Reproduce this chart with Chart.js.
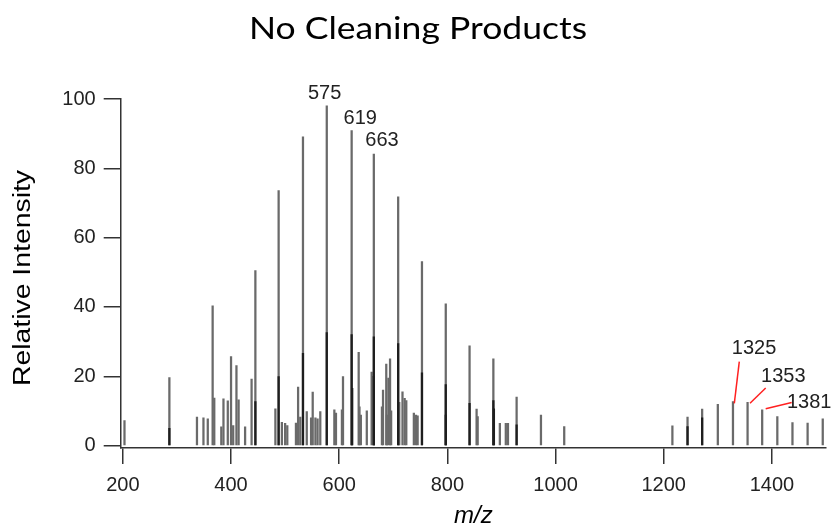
<!DOCTYPE html>
<html>
<head>
<meta charset="utf-8">
<script src="https://cdn.jsdelivr.net/npm/chart.js@4"></script>
<style>
  html, body { margin: 0; padding: 0; background: #fff; }
  #spectrum { display: block; }
</style>
</head>
<body>
<canvas id="spectrum" width="834" height="524"></canvas>
<script>
// peak positions (m/z) and relative intensities
const peakMz = [203, 286, 337, 349, 357, 366, 369, 382, 386, 394, 400, 404, 410, 414, 426, 438, 445,
    482, 488, 494, 500, 504, 520, 524, 528, 533, 540, 548, 551, 556, 560, 565, 577, 591, 594, 605, 607,
    623, 636, 637.5, 640, 651, 660, 664, 679, 681, 687, 688, 691, 694, 696, 709, 711, 717, 721, 724,
    738, 742, 745, 753, 797, 841, 854, 856, 885, 897, 908, 912, 928, 973, 1016,
    1216, 1244, 1271, 1300, 1328, 1355, 1382, 1410, 1438, 1466, 1494];
const peakInt = [7.2, 19.6, 8.2, 8.0, 7.7, 40.3, 13.7, 5.4, 13.5, 12.9, 25.7, 5.8, 23.1, 13.2, 5.4, 19.2, 50.5,
    10.6, 73.6, 6.7, 6.4, 5.8, 6.5, 16.9, 8.2, 89.1, 9.8, 8.0, 15.4, 8.0, 7.7, 9.8, 98, 10.3, 9.4, 10.3, 19.9,
    90.9, 26.9, 11.2, 8.8, 10.0, 21.2, 84.1, 11.2, 16, 23.5, 8.8, 19.5, 25, 10, 71.8, 12.5, 15.5, 13.6, 13,
    9.4, 8.8, 8.6, 53.1, 40.9, 28.8, 10.5, 8.4, 25.0, 6.4, 6.4, 6.4, 14, 8.8, 5.5,
    5.7, 8.2, 10.5, 11.9, 12.7, 12.5, 10.3, 8.4, 6.6, 6.5, 7.7];

// shorter peaks sitting under the big ones (show as darker bases)
const minorMz = [286, 445, 488, 533, 577, 623, 624, 664, 664, 709, 753, 797, 797, 841, 885, 886, 928, 1244, 1271];
const minorInt = [5, 12.7, 19.9, 26.6, 32.6, 32, 16.5, 31.4, 20, 29.4, 21, 17.6, 8.8, 12.2, 13, 10.6, 6, 5.5, 8];

const xTicks = [200, 400, 600, 800, 1000, 1200, 1400];
const yTicks = [0, 20, 40, 60, 80, 100];

// peak labels and leader lines
const labelText = ['575', '619', '663', '1325', '1353', '1381'];
const labelX = [573, 639, 679, 1367, 1421, 1469];
const labelY = [101.5, 94.5, 88, 28.1, 19.9, 12.5];
const leaderFrom = [[1339.7, 24.2], [1388.5, 16.6], [1436.6, 12.4]];
const leaderTo = [[1330.5, 12.2], [1359.5, 12.2], [1388.5, 10.6]];

const tickFont = { family: "'Liberation Sans', Arial, sans-serif", size: 20 };

// draws text squeezed/stretched along its length to a target width
function stretchedText(ctx, text, x, y, width) {
    const w = ctx.measureText(text).width;
    ctx.save();
    ctx.translate(x, y);
    ctx.scale(width / w, 1);
    ctx.fillText(text, 0, 0);
    ctx.restore();
}

const decorations = {
    id: 'decorations',
    afterDraw(chart) {
        const ctx = chart.ctx;
        const xs = chart.scales.x, ys = chart.scales.y;
        ctx.save();
        ctx.fillStyle = '#000';
        ctx.textAlign = 'center';

        // title
        ctx.font = "31px Lato, 'Noto Sans', sans-serif";
        ctx.textBaseline = 'alphabetic';
        stretchedText(ctx, 'No Cleaning Products', 418, 39, 338);

        // y axis title
        ctx.save();
        ctx.translate(24, 278);
        ctx.rotate(-Math.PI / 2);
        ctx.font = "23px 'Liberation Sans', Arial, sans-serif";
        ctx.textBaseline = 'middle';
        stretchedText(ctx, 'Relative Intensity', 0, 0, 216);
        ctx.restore();

        // red leader lines
        ctx.strokeStyle = '#ff2020';
        ctx.lineWidth = 1.5;
        leaderFrom.forEach((p, i) => {
            ctx.beginPath();
            ctx.moveTo(xs.getPixelForValue(p[0]), ys.getPixelForValue(p[1]));
            ctx.lineTo(xs.getPixelForValue(leaderTo[i][0]), ys.getPixelForValue(leaderTo[i][1]));
            ctx.stroke();
        });

        // peak labels
        ctx.fillStyle = '#222';
        ctx.font = "20px 'Liberation Sans', Arial, sans-serif";
        ctx.textBaseline = 'middle';
        labelText.forEach((t, i) => {
            ctx.fillText(t, xs.getPixelForValue(labelX[i]), ys.getPixelForValue(labelY[i]));
        });
        ctx.restore();
    }
};

new Chart(document.getElementById('spectrum'), {
    type: 'bar',
    data: {
        datasets: [{
            data: peakMz.map((m, i) => ({ x: m, y: peakInt[i] })),
            backgroundColor: '#6a6a6a',
            barThickness: 1.6,
            grouped: false,
            order: 2
        }, {
            data: minorMz.map((m, i) => ({ x: m, y: minorInt[i] })),
            backgroundColor: '#1e1e1e',
            barThickness: 1.6,
            grouped: false,
            order: 1
        }]
    },
    options: {
        responsive: false,
        animation: false,
        devicePixelRatio: 1,
        layout: { padding: { left: 0, top: 99, right: 8, bottom: 0 } },
        plugins: {
            legend: { display: false },
            tooltip: { enabled: false },
            title: { display: false }
        },
        scales: {
            x: {
                type: 'linear',
                min: 196,
                max: 1500,
                offset: false,
                afterBuildTicks: s => { s.ticks = xTicks.map(v => ({ value: v })); },
                afterFit: s => { s.height = 76; },
                ticks: { font: tickFont, color: '#222', padding: 9, maxRotation: 0, autoSkip: false, callback: v => String(v) },
                grid: { offset: false, drawOnChartArea: false, drawTicks: true, tickLength: 16, color: '#333', lineWidth: 1.5 },
                border: { display: true, color: '#333', width: 1.5 },
                title: {
                    display: true,
                    text: 'm/z',
                    color: '#000',
                    font: { family: "'Liberation Sans', Arial, sans-serif", size: 24, style: 'italic' },
                    padding: { top: 0, bottom: -7 }
                }
            },
            y: {
                min: -0.7,
                max: 100,
                afterBuildTicks: s => { s.ticks = yTicks.map(v => ({ value: v })); },
                afterFit: s => { s.width = 120.7; },
                ticks: { font: tickFont, color: '#222', padding: 8 },
                grid: { drawOnChartArea: false, drawTicks: true, tickLength: 17, color: '#333', lineWidth: 1.5 },
                border: { display: true, color: '#333', width: 1.5 }
            }
        }
    },
    plugins: [decorations]
});
</script>
</body>
</html>
